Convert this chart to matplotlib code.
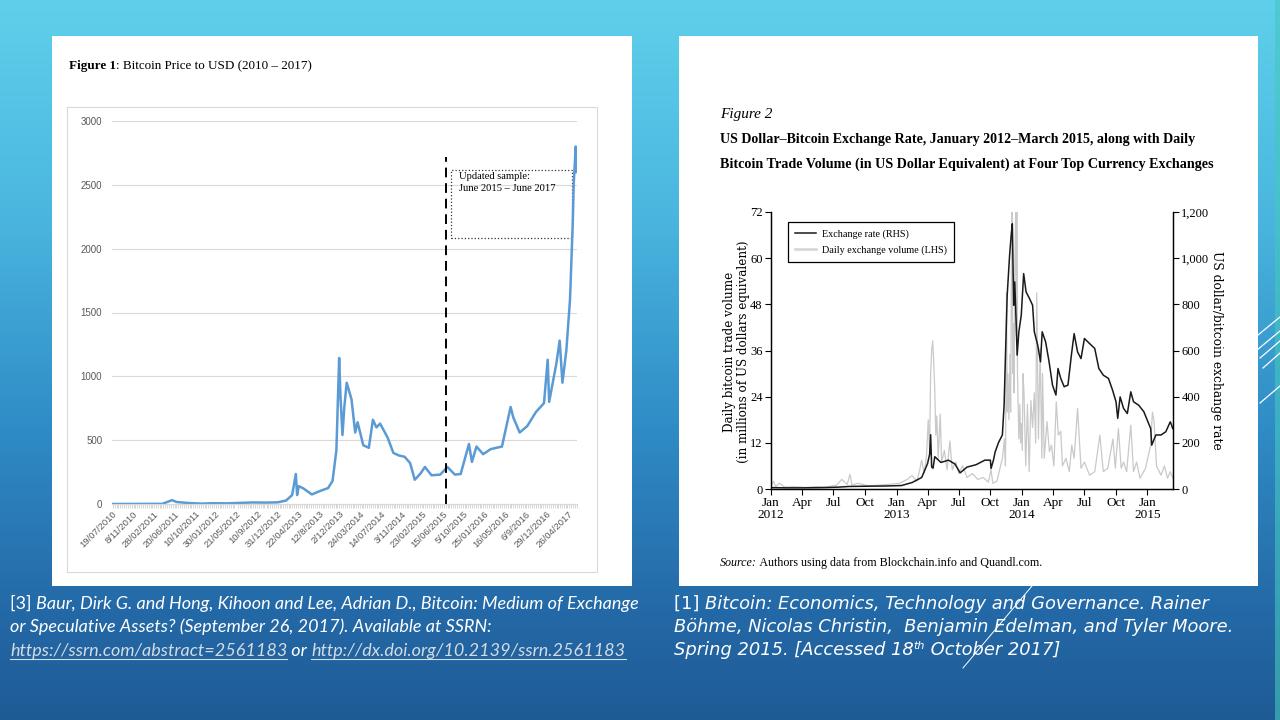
import numpy as np
import pandas as pd
import matplotlib
matplotlib.use('Agg')
import matplotlib.pyplot as plt
import matplotlib.dates as mdates
from matplotlib.colors import LinearSegmentedColormap
from matplotlib.lines import Line2D
from matplotlib.patches import Rectangle
from matplotlib.ticker import FuncFormatter

# ---------------- Figure 1: bitcoin price in USD ----------------
btc_dates = ['2010-07-19', '2010-11-01', '2011-02-10', '2011-04-15', '2011-06-08', '2011-07-01',
             '2011-09-01', '2011-11-15', '2012-01-15', '2012-04-01', '2012-08-15', '2012-11-01',
             '2013-01-01', '2013-02-15', '2013-03-20', '2013-04-09', '2013-04-16', '2013-04-25',
             '2013-05-20', '2013-07-05', '2013-08-15', '2013-10-01', '2013-10-25', '2013-11-15',
             '2013-11-30', '2013-12-07', '2013-12-18', '2013-12-28', '2014-01-10', '2014-02-05',
             '2014-02-25', '2014-03-10', '2014-04-10', '2014-05-10', '2014-06-01', '2014-06-20',
             '2014-07-10', '2014-08-20', '2014-09-20', '2014-10-20', '2014-11-20', '2014-12-20',
             '2015-01-14', '2015-02-15', '2015-03-10', '2015-04-15', '2015-06-01', '2015-07-10',
             '2015-08-20', '2015-09-20', '2015-11-04', '2015-11-20', '2015-12-15', '2016-01-20',
             '2016-03-01', '2016-05-01', '2016-06-17', '2016-07-01', '2016-08-05', '2016-09-15',
             '2016-11-01', '2016-12-15', '2017-01-04', '2017-01-12', '2017-02-20', '2017-03-10',
             '2017-03-25', '2017-04-15', '2017-05-05', '2017-05-20', '2017-05-25', '2017-06-05',
             '2017-06-10']
btc_price = [0.1, 0.3, 1, 1, 30, 16,
             8, 3, 6, 5, 12, 11,
             13, 27, 70, 235, 70, 140,
             122, 75, 100, 125, 180, 420,
             1144, 850, 540, 760, 950, 820,
             560, 640, 460, 440, 660, 600,
             630, 520, 400, 380, 370, 320,
             190, 240, 290, 225, 230, 290,
             230, 235, 470, 330, 450, 390,
             430, 450, 760, 680, 560, 610,
             720, 790, 1130, 800, 1100, 1280,
             950, 1200, 1600, 2200, 2500, 2800,
             2600]
fig1_ticks = ['19/07/2010', '8/11/2010', '28/02/2011', '20/06/2011', '10/10/2011', '30/01/2012',
              '21/05/2012', '10/9/2012', '31/12/2012', '22/04/2013', '12/8/2013', '2/12/2013',
              '24/03/2014', '14/07/2014', '3/11/2014', '23/02/2015', '15/06/2015', '5/10/2015',
              '25/01/2016', '16/05/2016', '6/9/2016', '29/12/2016', '26/04/2017']
sample_start = '2015-07-03'

# ---------------- Figure 2: exchange rate (RHS) and daily volume (LHS) ----------------
rate_dates = ['2012-01-01', '2012-02-15', '2012-04-01', '2012-06-01', '2012-07-15', '2012-08-15',
              '2012-10-01', '2012-12-01', '2013-01-15', '2013-02-15', '2013-03-15', '2013-04-01',
              '2013-04-07', '2013-04-10', '2013-04-13', '2013-04-17', '2013-04-22', '2013-05-10',
              '2013-06-01', '2013-06-20', '2013-07-05', '2013-07-25', '2013-08-20', '2013-09-15',
              '2013-10-01', '2013-10-03', '2013-10-10', '2013-10-15', '2013-10-25', '2013-11-05',
              '2013-11-10', '2013-11-14', '2013-11-19', '2013-11-26', '2013-12-01', '2013-12-04',
              '2013-12-06', '2013-12-08', '2013-12-11', '2013-12-15', '2013-12-18', '2013-12-23',
              '2013-12-30', '2014-01-06', '2014-01-13', '2014-01-23', '2014-02-01', '2014-02-06',
              '2014-02-16', '2014-02-24', '2014-03-01', '2014-03-11', '2014-03-21', '2014-03-31',
              '2014-04-10', '2014-04-16', '2014-04-24', '2014-05-04', '2014-05-15', '2014-05-25',
              '2014-06-02', '2014-06-12', '2014-06-22', '2014-07-02', '2014-07-17', '2014-08-01',
              '2014-08-13', '2014-08-26', '2014-09-10', '2014-09-22', '2014-10-02', '2014-10-07',
              '2014-10-14', '2014-10-24', '2014-11-04', '2014-11-14', '2014-11-22', '2014-12-07',
              '2014-12-22', '2015-01-03', '2015-01-11', '2015-01-14', '2015-01-26', '2015-02-10',
              '2015-02-24', '2015-03-09', '2015-03-13', '2015-03-16']
rate_usd = [6, 5, 5, 6, 8, 11,
            12, 13, 15, 28, 50, 110,
            150, 235, 95, 90, 140, 115,
            125, 108, 70, 95, 105, 125,
            125, 89, 125, 161, 202, 234,
            363, 580, 839, 1012, 1106, 1149,
            969, 796, 897, 724, 580, 681,
            753, 933, 854, 825, 796, 681,
            623, 551, 681, 637, 551, 450,
            407, 522, 479, 443, 450, 580,
            673, 594, 565, 652, 630, 609,
            522, 493, 479, 428, 378, 306,
            399, 349, 327, 421, 378, 363,
            335, 291, 262, 190, 234, 234,
            248, 291, 277, 262]

vol_dates = ['2012-01-01', '2012-01-08', '2012-01-15', '2012-01-25', '2012-02-10', '2012-03-10',
             '2012-04-10', '2012-05-10', '2012-06-10', '2012-07-10', '2012-07-25', '2012-08-10',
             '2012-08-18', '2012-08-24', '2012-09-10', '2012-10-10', '2012-11-10', '2012-12-10',
             '2013-01-10', '2013-02-01', '2013-02-15', '2013-03-01', '2013-03-08', '2013-03-15',
             '2013-03-22', '2013-03-29', '2013-04-03', '2013-04-07', '2013-04-10', '2013-04-13',
             '2013-04-16', '2013-04-19', '2013-04-22', '2013-04-25', '2013-04-28', '2013-05-02',
             '2013-05-08', '2013-05-12', '2013-05-20', '2013-05-28', '2013-06-05', '2013-06-12',
             '2013-06-22', '2013-07-01', '2013-07-12', '2013-07-25', '2013-08-10', '2013-08-25',
             '2013-09-10', '2013-09-25', '2013-10-03', '2013-10-08', '2013-10-20', '2013-10-28',
             '2013-11-05', '2013-11-11', '2013-11-14', '2013-11-17', '2013-11-19', '2013-11-21',
             '2013-11-24', '2013-11-27', '2013-11-29', '2013-12-01', '2013-12-03', '2013-12-05',
             '2013-12-08', '2013-12-09', '2013-12-11', '2013-12-14', '2013-12-16', '2013-12-17',
             '2013-12-19', '2013-12-23', '2013-12-26', '2013-12-28', '2013-12-30', '2014-01-02',
             '2014-01-04', '2014-01-07', '2014-01-12', '2014-01-17', '2014-01-22', '2014-01-27',
             '2014-02-01', '2014-02-06', '2014-02-10', '2014-02-13', '2014-02-18', '2014-02-23',
             '2014-02-28', '2014-03-02', '2014-03-07', '2014-03-15', '2014-03-22', '2014-03-28',
             '2014-04-04', '2014-04-11', '2014-04-17', '2014-04-24', '2014-04-29', '2014-05-09',
             '2014-05-19', '2014-05-26', '2014-06-02', '2014-06-12', '2014-06-22', '2014-07-02',
             '2014-07-17', '2014-08-01', '2014-08-16', '2014-08-26', '2014-09-08', '2014-09-23',
             '2014-09-30', '2014-10-09', '2014-10-17', '2014-10-24', '2014-11-02', '2014-11-14',
             '2014-11-22', '2014-12-01', '2014-12-11', '2014-12-27', '2015-01-11', '2015-01-16',
             '2015-01-21', '2015-01-28', '2015-02-10', '2015-02-20', '2015-03-01', '2015-03-09',
             '2015-03-17']
vol_musd = [0.8, 2.0, 0.6, 1.5, 0.5, 0.6,
            0.4, 0.6, 0.5, 1.0, 2.5, 1.2,
            3.8, 1.0, 1.5, 0.8, 1.0, 1.2,
            1.5, 2.5, 3.5, 2.0, 4.5, 7.5,
            4.0, 8.5, 18, 10, 30, 36,
            38.5, 33, 26, 14, 19, 8,
            19.5, 7, 10, 5, 12.5, 5,
            7, 4, 6, 3, 4, 2.5,
            3, 1.8, 5, 1.5, 2, 5,
            8, 13, 6, 51, 20, 30,
            18, 35, 20, 52, 74, 30,
            43, 25, 56, 74, 40, 74,
            30, 13, 22, 12, 17, 10,
            30, 25, 6, 22, 4.5, 23,
            16, 25, 12, 51, 13, 36.5,
            8, 30, 8, 17.5, 9.7, 11.4,
            6, 22.7, 14, 15, 6, 8,
            4.5, 11.4, 8, 21, 5.4, 7,
            3.6, 4.5, 14, 4.5, 5.4, 13,
            5.4, 15.7, 5.4, 7, 4.5, 16.6,
            4.5, 7, 2.8, 5.4, 11.4, 20,
            17.5, 6, 3.6, 6, 2.8, 4.5,
            2.8]
fig2_tick_dates = pd.date_range('2012-01-01', '2015-01-01', freq='QS')
fig2_tick_labels = ['Jan\n2012', 'Apr', 'Jul', 'Oct', 'Jan\n2013', 'Apr', 'Jul', 'Oct',
                    'Jan\n2014', 'Apr', 'Jul', 'Oct', 'Jan\n2015']

# ---------------------------------------------------------------------------
fig = plt.figure(figsize=(12.8, 7.2), dpi=100)
renderer = fig.canvas.get_renderer()

# slide background (pixel coordinates, y downwards)
bg = fig.add_axes([0, 0, 1, 1], zorder=-10)
cmap = LinearSegmentedColormap.from_list('slide', [(0, '#5fd0eb'), (0.3, '#4ab6df'), (0.6, '#2f8bc5'),
                                                   (0.85, '#2469a7'), (1, '#1e5b95')])
bg.imshow(np.linspace(0, 1, 256).reshape(-1, 1), cmap=cmap, aspect='auto', extent=[0, 1280, 720, 0])
bg.set_xlim(0, 1280)
bg.set_ylim(720, 0)
bg.axis('off')
bg.add_patch(Rectangle((1275, 0), 5, 720, fc='#45c8bd', ec='none', alpha=0.6))
for x0, y0, x1, y1 in [(1258, 335, 1280, 317), (1257, 350, 1280, 331), (1260, 358, 1280, 341),
                       (1263, 368, 1280, 353), (1260, 403, 1280, 386)]:
    bg.plot([x0, x1], [y0, y1], color='white', lw=0.9)
bg.plot([1032, 963], [586, 668], color='white', lw=0.7)

# white panels
bg.add_patch(Rectangle((52, 36), 580, 550, fc='white', ec='none'))
bg.add_patch(Rectangle((679, 36), 579, 550, fc='white', ec='none'))
bg.add_patch(Rectangle((67, 107), 530, 465, fc='white', ec='#d9d9d9', lw=0.8))


def text_width(s, **kw):
    t = bg.text(0, 0, '|' + s + '|', **kw)
    w = t.get_window_extent(renderer).width
    t.remove()
    t = bg.text(0, 0, '||', **kw)
    w -= t.get_window_extent(renderer).width
    t.remove()
    return w


def runs(x, y, parts, fit=None, **common):
    # draw consecutive text pieces on one baseline, optionally scaled to a total width
    scale = 1.0
    if fit:
        total = 0
        for s, kw in parts:
            st = {k: v for k, v in {**common, **kw}.items() if k not in ('underline', 'lift')}
            total += text_width(s, **st)
        scale = fit / total
    for s, kw in parts:
        style = {**common, **kw}
        style['size'] = style['size'] * scale
        underline = style.pop('underline', False)
        lift = style.pop('lift', 0) * scale
        bg.text(x, y - lift, s, ha='left', va='baseline', **style)
        w = text_width(s, **style)
        if underline:
            bg.plot([x, x + w], [y + 2.5, y + 2.5], color=style.get('color', 'k'), lw=0.8)
        x += w


serif = 'Liberation Serif'

# ---------------- left chart ----------------
runs(69, 69, [('Figure 1', {'weight': 'bold'}), (': Bitcoin Price to USD (2010 \u2013 2017)', {})],
     fit=244, family=serif, size=9, color='black')

ax1 = fig.add_axes([112 / 1280, 1 - 504 / 720, 465 / 1280, 383 / 720])
ax1.patch.set_alpha(0)
ax1.plot(pd.to_datetime(btc_dates), btc_price, color='#5b9bd5', lw=1.8, solid_joinstyle='round')
ax1.set_ylim(0, 3000)
ax1.set_yticks(range(0, 3001, 500))
ax1.set_xlim(pd.Timestamp('2010-07-17'), pd.Timestamp('2017-06-12'))
tick_pos = pd.to_datetime(fig1_ticks, format='%d/%m/%Y')
ax1.set_xticks(tick_pos)
ax1.set_xticklabels(fig1_ticks, rotation=45, ha='right', rotation_mode='anchor')
ax1.xaxis.set_minor_locator(mdates.DayLocator(bymonthday=[1, 11, 21]))
ax1.grid(axis='y', color='#d9d9d9', lw=0.8)
ax1.set_axisbelow(True)
for side in ['left', 'top', 'right']:
    ax1.spines[side].set_visible(False)
ax1.spines['bottom'].set_color('#d9d9d9')
ax1.tick_params(axis='y', length=0, pad=7, labelsize=7, labelcolor='#595959')
ax1.tick_params(axis='x', which='major', length=0, pad=4, labelsize=6.8, labelcolor='#595959')
ax1.tick_params(axis='x', which='minor', length=3, width=0.6, color='#d0d0d0')
for lab in ax1.get_xticklabels() + ax1.get_yticklabels():
    lab.set_family('Liberation Sans')

ax1.vlines(pd.Timestamp(sample_start), 0, 2720, colors='black', linestyles=(0, (5, 3)), lw=1.4)
ax1.add_patch(Rectangle((0.729, 0.6945), 0.26, 0.1775, transform=ax1.transAxes, fill=False,
                        ec='#333333', lw=0.9, ls=':'))
ax1.text(0.746, 0.868, 'Updated sample:\nJune 2015 \u2013 June 2017', transform=ax1.transAxes,
         va='top', ha='left', family=serif, size=7.6, linespacing=1.45)

# ---------------- right chart ----------------
runs(720, 118, [('Figure 2', {'style': 'italic'})], family=serif, size=11)
runs(720, 143, [('US Dollar\u2013Bitcoin Exchange Rate, January 2012\u2013March 2015, along with Daily', {})],
     fit=475, family=serif, size=10, weight='bold')
runs(720, 168, [('Bitcoin Trade Volume (in US Dollar Equivalent) at Four Top Currency Exchanges', {})],
     fit=494, family=serif, size=10, weight='bold')
runs(720, 566, [('Source:', {'style': 'italic'}), (' Authors using data from Blockchain.info and Quandl.com.', {})],
     fit=321, family=serif, size=8.5)

ax2 = fig.add_axes([771 / 1280, 1 - 489 / 720, 402 / 1280, 277 / 720])
ax2.patch.set_alpha(0)
ax2.plot(pd.to_datetime(vol_dates), vol_musd, color='#c9c9c9', lw=0.9)
ax2.set_ylim(0, 72)
ax2.set_yticks(range(0, 73, 12))
ax2.set_xlim(pd.Timestamp('2012-01-01'), pd.Timestamp('2015-03-17'))
ax2.set_xticks(fig2_tick_dates)
ax2.set_xticklabels(fig2_tick_labels, linespacing=1.0)

ax2r = ax2.twinx()
ax2r.plot(pd.to_datetime(rate_dates), rate_usd, color='#1a1a1a', lw=1.1)
ax2r.set_ylim(0, 1200)
ax2r.set_yticks(range(0, 1201, 200))
ax2r.yaxis.set_major_formatter(FuncFormatter(lambda v, p: f'{int(v):,}'))

for a in (ax2, ax2r):
    a.spines['top'].set_visible(False)
    for side in ['left', 'right', 'bottom']:
        a.spines[side].set_linewidth(0.9)
    a.tick_params(direction='out', length=4, width=0.8, labelsize=9, pad=2)
    for lab in a.get_xticklabels() + a.get_yticklabels():
        lab.set_family(serif)
ax2.tick_params(axis='x', labelsize=9.5)

handles = [Line2D([], [], color='#1a1a1a', lw=1.1), Line2D([], [], color='#d4d4d4', lw=1.8)]
leg = ax2r.legend(handles, ['Exchange rate (RHS)', 'Daily exchange volume (LHS)'], loc='upper left',
                  bbox_to_anchor=(0.042, 0.964), frameon=True, fancybox=False, framealpha=1,
                  edgecolor='black', borderpad=0.75, handlelength=2.0, handletextpad=0.6,
                  labelspacing=0.6, borderaxespad=0, prop={'family': serif, 'size': 7.3})
leg.get_frame().set_linewidth(0.9)

bg.text(729, 352, 'Daily bitcoin trade volume', rotation=90, ha='center', va='center',
        family='DejaVu Serif', size=8.6)
bg.text(744, 352, '(in millions of US dollars equivalent)', rotation=90, ha='center', va='center',
        family='DejaVu Serif', size=8.6)
bg.text(1216, 350, 'US dollar/bitcoin exchange rate', rotation=-90, ha='center', va='center',
        family='DejaVu Serif', size=8.8)

# ---------------- captions ----------------
cap = dict(family='Lato', size=12.5, color='white')
link = '#d3dbe3'
line1 = [('[3] ', {}), ('Baur, Dirk G. and Hong, Kihoon and Lee, Adrian D., Bitcoin: Medium of Exchange',
                        {'style': 'italic'})]
cap['size'] = 12.5 * 630 / sum(text_width(s, **{**cap, **kw}) for s, kw in line1)
runs(10, 609, line1, **cap)
runs(10, 632, [('or Speculative Assets? (September 26, 2017). Available at SSRN:', {'style': 'italic'})], **cap)
runs(10, 656, [('https://ssrn.com/abstract=2561183', {'style': 'italic', 'color': link, 'underline': True}),
               (' or ', {'style': 'italic'}),
               ('http://dx.doi.org/10.2139/ssrn.2561183', {'style': 'italic', 'color': link, 'underline': True})],
     **cap)

cap2 = dict(family='DejaVu Sans', size=12.5, color='white')
line1 = [('[1] ', {}), ('Bitcoin: Economics, Technology and Governance. Rainer', {'style': 'italic'})]
cap2['size'] = 12.5 * 536 / sum(text_width(s, **{**cap2, **kw}) for s, kw in line1)
runs(674, 609, line1, **cap2)
runs(674, 632, [('B\u00f6hme, Nicolas Christin,  Benjamin Edelman, and Tyler Moore.', {'style': 'italic'})], **cap2)
runs(674, 655, [('Spring 2015. [Accessed 18', {'style': 'italic'}),
                ('th', {'style': 'italic', 'size': cap2['size'] * 0.62, 'lift': 6}),
                (' October 2017]', {'style': 'italic'})], **cap2)

fig.savefig('out.png', dpi=100)
